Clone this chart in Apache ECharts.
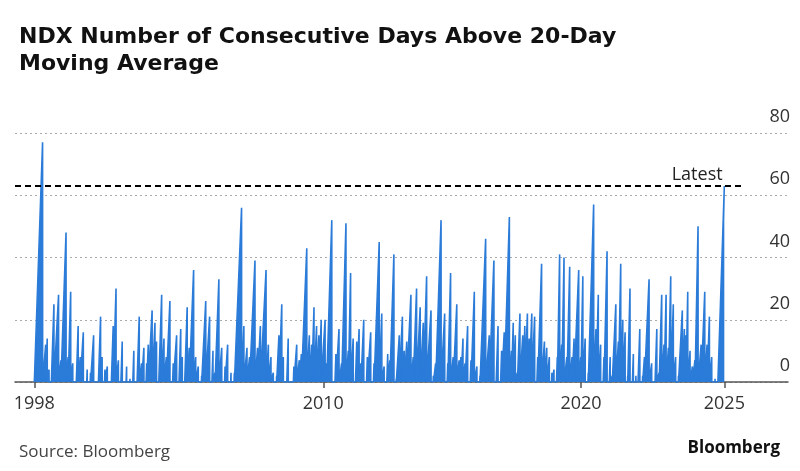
<!DOCTYPE html>
<html>
<head>
<meta charset="utf-8">
<script src="https://cdn.jsdelivr.net/npm/echarts@6/dist/echarts.min.js"></script>
<style>
html,body{margin:0;padding:0;background:#fff;}
#chart{width:800px;height:471px;}
</style>
</head>
<body>
<div id="chart"></div>
<script>
// Peak of each run of consecutive days above the 20-day MA (decimal year, days)
const peakYears = [
1999.11,1999.23,1999.29,1999.36,1999.55,1999.73,1999.82,2000.02,2000.10,2000.20,2000.28,2000.49,2000.57,2000.69,2000.84,2000.97,
2001.09,2001.36,2001.42,2001.53,2001.62,2001.85,2001.96,2002.05,2002.20,2002.37,2002.50,2002.65,2002.86,2002.95,2003.04,2003.15,
2003.21,2003.36,2003.47,2003.53,2003.73,2003.82,2003.91,2004.05,2004.18,2004.31,2004.47,2004.53,2004.72,2004.80,2004.97,2005.05,
2005.15,2005.28,2005.44,2005.59,2005.72,2005.80,2005.95,2006.06,2006.19,2006.29,2006.42,2006.55,2006.83,2006.92,2007.04,2007.14,
2007.35,2007.45,2007.56,2007.78,2007.87,2007.97,2008.06,2008.19,2008.28,2008.39,2008.45,2008.64,2008.86,2008.97,2009.07,2009.15,
2009.36,2009.46,2009.55,2009.64,2009.74,2009.83,2009.92,2010.07,2010.13,2010.33,2010.49,2010.61,2010.71,2010.88,2010.97,2011.06,
2011.16,2011.30,2011.39,2011.46,2011.57,2011.71,2011.84,2011.97,2012.17,2012.27,2012.36,2012.50,2012.58,2012.74,2012.83,2012.95,
2013.07,2013.14,2013.24,2013.40,2013.49,2013.62,2013.76,2013.88,2014.01,2014.18,2014.27,2014.36,2014.57,2014.71,2014.83,2014.94,
2015.04,2015.18,2015.27,2015.34,2015.42,2015.50,2015.60,2015.73,2015.86,2015.96,2016.08,2016.30,2016.44,2016.62,2016.78,2016.92,
2017.02,2017.22,2017.30,2017.37,2017.45,2017.53,2017.63,2017.74,2017.82,2017.92,2017.99,2018.09,2018.20,2018.32,2018.47,2018.58,
2018.67,2018.77,2018.87,2018.95,2019.08,2019.17,2019.25,2019.34,2019.45,2019.56,2019.65,2019.73,2019.91,2019.99,2020.07,2020.16,
2020.28,2020.49,2020.58,2020.67,2020.76,2020.89,2021.01,2021.13,2021.21,2021.35,2021.45,2021.54,2021.62,2021.71,2021.81,2021.90,
2022.03,2022.13,2022.28,2022.39,2022.46,2022.64,2022.74,2022.94,2023.03,2023.13,2023.22,2023.30,2023.39,2023.48,2023.58,2023.67,
2023.78,2023.93,2024.01,2024.07,2024.14,2024.23,2024.32,2024.42,2024.54,2024.66,2024.80,2024.89,2024.98,2025.07,2025.20,2025.56
];
const peakValues = [
77,12,14,4,25,28,7,48,8,29,6,18,8,16,4,3,
15,21,8,4,5,18,30,7,13,5,1,10,21,6,11,6,
12,23,19,13,28,14,8,26,6,15,17,8,24,11,36,8,
5,2,26,21,10,3,33,11,5,12,3,3,56,18,11,8,
39,11,18,36,12,8,3,2,15,25,8,14,5,12,7,9,
43,15,12,24,18,15,20,20,6,52,9,17,6,51,10,35,
14,13,17,6,20,8,16,6,45,22,5,9,7,41,1,15,
21,10,13,28,8,30,24,19,34,23,2,6,52,22,6,35,
8,25,7,8,14,6,18,7,29,5,2,46,15,39,18,10,
16,53,10,19,15,3,22,15,18,22,14,22,21,8,38,13,
11,8,3,4,8,41,12,40,8,37,8,14,36,8,34,14,
3,57,17,28,12,8,42,8,2,25,13,38,20,16,2,30,
9,2,17,2,8,33,6,17,3,28,12,28,11,34,25,8,
2,23,17,15,29,10,5,7,50,12,29,12,21,8,1,63
];
const latestValue = 63;
const dataStart = 1998.79;
const xTickValues = [1998.79, 2010, 2020, 2025.56];
const xTickLabels = ['1998', '2010', '2020', '2025'];
const yTicks = [0, 20, 40, 60, 80];

const TRADING_DAYS = 252;
const seriesData = [[dataStart, 0]];
let prevEnd = dataStart;
for (let i = 0; i < peakYears.length; i++) {
  const p = peakYears[i], v = peakValues[i];
  const start = Math.max(p - v / TRADING_DAYS, prevEnd);
  seriesData.push([start, 0]);
  seriesData.push([p, v]);
  if (i < peakYears.length - 1) {
    seriesData.push([p + 0.003, 0]);
    prevEnd = p + 0.003;
  }
}

const chart = echarts.init(document.getElementById('chart'), null, {renderer: 'canvas'});
const FONT = '"Open Sans", "Noto Sans", sans-serif';
chart.setOption({
  animation: false,
  backgroundColor: '#ffffff',
  title: [{
    text: 'NDX Number of Consecutive Days Above 20-Day\nMoving Average',
    left: 14, top: 19,
    textStyle: {fontFamily: '"DejaVu Sans", Verdana, sans-serif', fontWeight: 'bold', fontSize: 22, lineHeight: 27, color: '#111'}
  }, {
    text: 'Source: Bloomberg',
    left: 14, top: 439,
    textStyle: {fontFamily: FONT, fontWeight: 'normal', fontSize: 17, color: '#444'}
  }, {
    text: 'Bloomberg',
    right: 15, top: 435,
    textStyle: {fontFamily: '"Open Sans", sans-serif', fontWeight: 'bold', fontSize: 17, color: '#111'}
  }],
  grid: {left: 15, right: 12, top: 133, bottom: 89, containLabel: false},
  xAxis: {
    type: 'value',
    min: 1998.04, max: 2028.03,
    axisLine: {show: true, lineStyle: {color: '#555', width: 1.5}},
    axisTick: {show: true, customValues: xTickValues, length: 6, lineStyle: {color: '#555', width: 1.5}},
    axisLabel: {
      customValues: xTickValues,
      formatter: function (v) {
        let best = 0;
        for (let i = 0; i < xTickValues.length; i++) {
          if (Math.abs(xTickValues[i] - v) < Math.abs(xTickValues[best] - v)) best = i;
        }
        return xTickLabels[best];
      },
      fontFamily: FONT, fontSize: 18, color: '#333', margin: 13
    },
    splitLine: {show: false}
  },
  yAxis: {
    type: 'value', position: 'right',
    min: yTicks[0], max: yTicks[yTicks.length - 1], interval: 20,
    axisLine: {show: false}, axisTick: {show: false},
    axisLabel: {
      inside: true, align: 'right', verticalAlign: 'bottom', margin: -2,
      padding: [0, 0, 7, 0],
      fontFamily: FONT, fontSize: 18, color: '#333'
    },
    splitLine: {show: true, lineStyle: {color: '#aaa', type: [2, 3], width: 1}}
  },
  series: [{
    type: 'line',
    data: seriesData,
    showSymbol: false,
    symbol: 'none',
    lineStyle: {color: '#2b7bd9', width: 1.6},
    areaStyle: {color: '#2b7bd9', opacity: 1},
    z: 2,
    markLine: {
      silent: true,
      symbol: ['none', 'none'],
      lineStyle: {color: '#000', type: [6, 4], width: 2},
      label: {
        show: true, formatter: 'Latest', position: 'insideEndTop', distance: [20, 2],
        fontFamily: FONT, fontSize: 18, color: '#222'
      },
      data: [[{coord: [1998.04, latestValue]}, {coord: [2026.27, latestValue]}]]
    }
  }]
});
</script>
</body>
</html>
